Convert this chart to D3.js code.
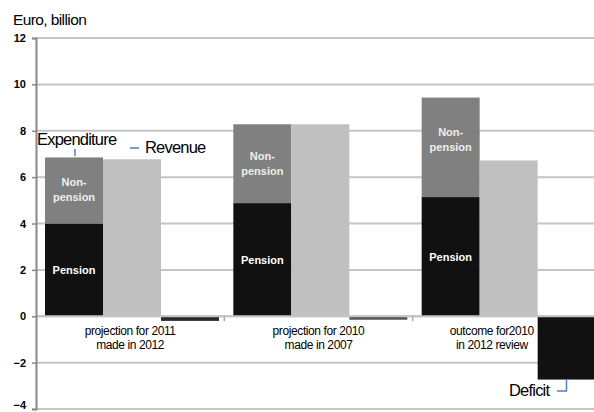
<!DOCTYPE html>
<html><head><meta charset="utf-8">
<script src="https://cdn.jsdelivr.net/npm/d3@7"></script>
<style>body{margin:0;background:#fff}svg{display:block;font-family:"Liberation Sans",Arial,sans-serif}</style>
</head><body><svg id="c" width="594" height="412"></svg>
<script>
const groups = ["g1","g2","g3"];
const groupLabels = [["projection for 2011","made in 2012"],["projection for 2010","made in 2007"],["outcome for2010","in 2012 review"]];
const pension = [4.0, 4.88, 5.14];
const nonPension = [2.85, 3.4, 4.29];
const revenue = [6.77, 8.28, 6.72];
const deficit = [-0.2, -0.15, -2.73];
const yTicks = [-4,-2,0,2,4,6,8,10,12];

const svg = d3.select("#c");
const y = d3.scaleLinear().domain([-4,12]).range([409,38]);
const x0 = d3.scaleBand().domain(groups).range([36,601]).padding(0);
const x1 = d3.scaleBand().domain(["exp","rev","def"]).range([9,183]).padding(0);

// gridlines
svg.append("g").selectAll("line").data(yTicks).join("line")
  .attr("x1",36).attr("x2",600).attr("y1",d=>y(d)).attr("y2",d=>y(d))
  .attr("stroke","#c4c4c4").attr("stroke-width",2);

// bars
const g = svg.append("g");
groups.forEach((k,i)=>{
  const gx = x0(k);
  g.append("rect").attr("x",gx+x1("exp")).attr("width",x1.bandwidth())
    .attr("y",y(pension[i])).attr("height",y(0)-y(pension[i])).attr("fill","#111111");
  g.append("rect").attr("x",gx+x1("exp")).attr("width",x1.bandwidth())
    .attr("y",y(pension[i]+nonPension[i])).attr("height",y(pension[i])-y(pension[i]+nonPension[i])).attr("fill","#808080");
  g.append("rect").attr("x",gx+x1("rev")).attr("width",x1.bandwidth())
    .attr("y",y(revenue[i])).attr("height",y(0)-y(revenue[i])).attr("fill","#c0c0c0");
  g.append("rect").attr("x",gx+x1("def")).attr("width",x1.bandwidth())
    .attr("y",y(0)).attr("height",y(deficit[i])-y(0)).attr("fill",i===2?"#111111":(i===0?"#2a2a2a":"#555555"));
  // inner labels
  const cx = gx + x1("exp") + x1.bandwidth()/2;
  g.append("text").attr("x",cx).attr("y",(y(0)+y(pension[i]))/2+4).attr("text-anchor","middle")
    .attr("fill","#fff").attr("font-size",11).attr("font-weight","bold").text("Pension");
  const np = g.append("text").attr("x",cx).attr("text-anchor","middle")
    .attr("fill","#eee").attr("font-size",11).attr("font-weight","bold");
  const npMid = i===2 ? y(pension[i]+nonPension[i])+42 : (y(pension[i])+y(pension[i]+nonPension[i]))/2;
  np.append("tspan").attr("x",cx).attr("y",npMid-4).text("Non-");
  np.append("tspan").attr("x",cx).attr("y",npMid+11).text("pension");
  // category labels
  const lx = x0(k) + x0.bandwidth()/2 + (i===2 ? -15 : 0);
  const t = svg.append("text").attr("text-anchor","middle").attr("font-size",12).attr("fill","#000").attr("letter-spacing",-0.4);
  t.append("tspan").attr("x",lx).attr("y",y(0)+19).text(groupLabels[i][0]);
  t.append("tspan").attr("x",lx).attr("y",y(0)+33).text(groupLabels[i][1]);
});

// zero axis
svg.append("line").attr("x1",36).attr("x2",600).attr("y1",y(0)).attr("y2",y(0)).attr("stroke","#c4c4c4").attr("stroke-width",2);
svg.append("g").selectAll("line").data(groups.slice(1)).join("line")
  .attr("x1",d=>x0(d)).attr("x2",d=>x0(d)).attr("y1",y(0)).attr("y2",y(0)+5).attr("stroke","#aaa").attr("stroke-width",1.5);

// y axis
const ya = svg.append("g").attr("transform","translate(36,0)")
  .call(d3.axisLeft(y).tickValues(yTicks).tickSize(4).tickPadding(6).tickFormat(d3.format("d")));
ya.select(".domain").attr("stroke","#888").attr("stroke-width",2);
ya.selectAll(".tick line").attr("stroke","#888").attr("stroke-width",1.5);
ya.selectAll("text").attr("font-size",11).attr("font-weight","bold").attr("fill","#000")
  .attr("font-family","Liberation Sans, Arial, sans-serif");
ya.selectAll(".tick").filter(d=>d===-4).select("text").attr("dy","-0.05em");

// title
svg.append("text").attr("x",13).attr("y",25).attr("font-size",15.5).attr("letter-spacing",-0.6).text("Euro, billion");

// legend / annotations
const blue = "#4f81bd";
svg.append("text").attr("x",37).attr("y",145).attr("font-size",16.5).attr("letter-spacing",-0.8).text("Expenditure");
svg.append("line").attr("x1",75).attr("x2",75).attr("y1",149).attr("y2",156).attr("stroke",blue).attr("stroke-width",1.5);
svg.append("line").attr("x1",130).attr("x2",139).attr("y1",148).attr("y2",148).attr("stroke",blue).attr("stroke-width",1.5);
svg.append("text").attr("x",145).attr("y",153).attr("font-size",16.5).attr("letter-spacing",-0.8).text("Revenue");
svg.append("text").attr("x",509).attr("y",396).attr("font-size",16.5).attr("letter-spacing",-0.8).text("Deficit");
svg.append("line").attr("x1",557).attr("x2",567).attr("y1",391).attr("y2",391).attr("stroke",blue).attr("stroke-width",1.5);
svg.append("line").attr("x1",566.5).attr("x2",566.5).attr("y1",y(deficit[2])).attr("y2",391).attr("stroke",blue).attr("stroke-width",1.5);
</script></body></html>
